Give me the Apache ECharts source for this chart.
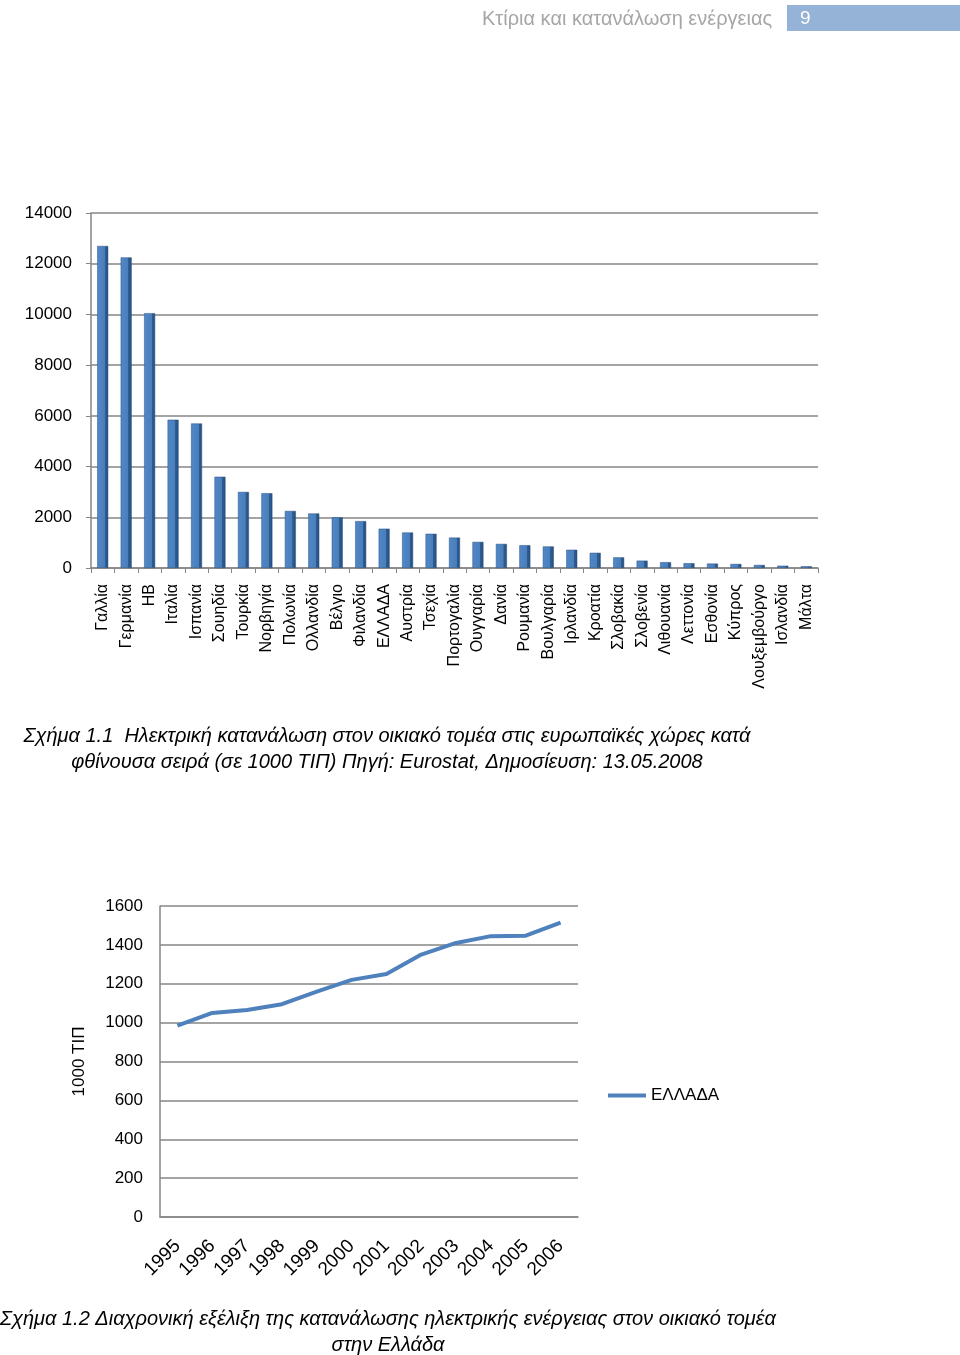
<!DOCTYPE html>
<html><head><meta charset="utf-8">
<script src="https://cdn.jsdelivr.net/npm/echarts@6/dist/echarts.min.js"></script>
<style>html,body{margin:0;padding:0;background:#fff}#c{width:960px;height:1355px}</style>
</head><body><div id="c"></div>
<script>
const countries = ['Γαλλία','Γερμανία','ΗΒ','Ιταλία','Ισπανία','Σουηδία','Τουρκία','Νορβηγία','Πολωνία','Ολλανδία','Βέλγιο','Φιλανδία','ΕΛΛΑΔΑ','Αυστρία','Τσεχία','Πορτογαλία','Ουγγαρία','Δανία','Ρουμανία','Βουλγαρία','Ιρλανδία','Κροατία','Σλοβακία','Σλοβενία','Λιθουανία','Λεττονία','Εσθονία','Κύπρος','Λουξεμβούργο','Ισλανδία','Μάλτα'];
const consumption = [12700,12250,10050,5850,5700,3600,3000,2950,2250,2150,2000,1850,1550,1400,1350,1200,1030,950,900,850,720,600,420,290,230,190,175,160,120,90,70];
const barTicks = [0,2000,4000,6000,8000,10000,12000,14000];
const years = ['1995','1996','1997','1998','1999','2000','2001','2002','2003','2004','2005','2006'];
const greece = [985,1050,1065,1095,1160,1220,1250,1350,1410,1445,1447,1515];
const lineTicks = [0,200,400,600,800,1000,1200,1400,1600];

const FONT = 'Liberation Sans';
const chart = echarts.init(document.getElementById('c'), null, {renderer:'canvas'});
const barColor = new echarts.graphic.LinearGradient(0,0,1,0,[
  {offset:0,color:'#5088C8'},{offset:0.68,color:'#4A7EBB'},
  {offset:0.7,color:'#2F5E93'},{offset:1,color:'#264F7E'}]);
chart.setOption({
  animation:false,
  textStyle:{fontFamily:FONT},
  graphic:[
    {type:'text',left:482,top:9,style:{text:'Κτίρια και κατανάλωση ενέργειας',fill:'#A6A6A6',font:'20px '+FONT}},
    {type:'rect',shape:{x:787,y:5,width:173,height:26},style:{fill:'#95B3D7'}},
    {type:'text',left:800,top:9,style:{text:'9',fill:'#fff',font:'19px '+FONT}},
    {type:'text',x:387,y:736,style:{text:'Σχήμα 1.1  Ηλεκτρική κατανάλωση στον οικιακό τομέα στις ευρωπαϊκές χώρες κατά',fill:'#000',font:'italic 20px '+FONT,align:'center',verticalAlign:'middle'}},
    {type:'text',x:387,y:762,style:{text:'φθίνουσα σειρά (σε 1000 ΤΙΠ) Πηγή: Eurostat, Δημοσίευση: 13.05.2008',fill:'#000',font:'italic 20px '+FONT,align:'center',verticalAlign:'middle'}},
    {type:'text',x:388,y:1319,style:{text:'Σχήμα 1.2 Διαχρονική εξέλιξη της κατανάλωσης ηλεκτρικής ενέργειας στον οικιακό τομέα',fill:'#000',font:'italic 20px '+FONT,align:'center',verticalAlign:'middle'}},
    {type:'text',x:388,y:1345,style:{text:'στην Ελλάδα',fill:'#000',font:'italic 20px '+FONT,align:'center',verticalAlign:'middle'}}
  ],
  legend:{show:true,data:[{name:'ΕΛΛΑΔΑ',icon:'rect'}],left:603,top:1082,itemWidth:38,itemHeight:4,itemGap:5,
    textStyle:{fontSize:17,color:'#000',fontFamily:FONT}},
  grid:[
    {left:91,right:142,top:213,bottom:787,containLabel:false},
    {left:160,right:382,top:906,bottom:138,containLabel:false}
  ],
  xAxis:[
    {type:'category',gridIndex:0,data:countries,
     axisLine:{lineStyle:{color:'#868686',width:1.5}},
     axisTick:{show:true,length:5,lineStyle:{color:'#868686'}},
     axisLabel:{rotate:90,fontSize:16,color:'#000',margin:16,interval:0}},
    {type:'category',gridIndex:1,data:years,
     axisLine:{lineStyle:{color:'#868686',width:1.5}},
     axisTick:{show:false},
     axisLabel:{rotate:45,fontSize:19,color:'#000',margin:26,interval:0}}
  ],
  yAxis:[
    {type:'value',gridIndex:0,min:0,max:14000,interval:2000,
     axisLine:{show:true,lineStyle:{color:'#868686',width:1.5}},
     axisTick:{show:true,length:5,lineStyle:{color:'#868686'}},
     splitLine:{lineStyle:{color:'#868686',width:1.5}},
     axisLabel:{fontSize:17,color:'#000',margin:19,
       formatter:v=>barTicks.includes(v)?String(v):''}},
    {type:'value',gridIndex:1,min:0,max:1600,interval:200,
     name:'1000 ΤΙΠ',nameLocation:'middle',nameGap:72,nameRotate:90,
     nameTextStyle:{fontSize:17,color:'#000',fontFamily:FONT},
     axisLine:{show:true,lineStyle:{color:'#868686',width:1.5}},
     axisTick:{show:false},
     splitLine:{lineStyle:{color:'#868686',width:1.5}},
     axisLabel:{fontSize:17,color:'#000',margin:17,
       formatter:v=>lineTicks.includes(v)?String(v):''}}
  ],
  series:[
    {type:'bar',xAxisIndex:0,yAxisIndex:0,data:consumption,barWidth:11,
     itemStyle:{color:barColor,borderColor:'#2C5382',borderWidth:0.5}},
    {type:'line',name:'ΕΛΛΑΔΑ',xAxisIndex:1,yAxisIndex:1,data:greece,showSymbol:false,symbol:'none',
     lineStyle:{color:'#4F81BD',width:4},itemStyle:{color:'#4F81BD'}}
  ]
});
</script></body></html>
